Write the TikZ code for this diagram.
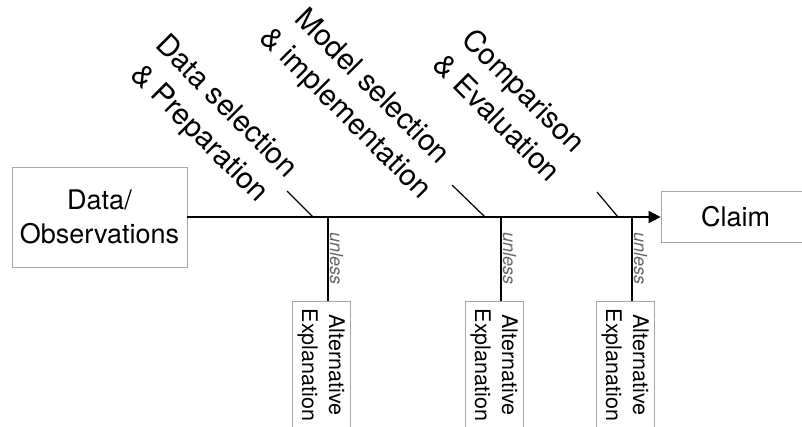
\documentclass[tikz,border=0pt]{standalone}
\usepackage{fontspec}
\setmainfont{TeX Gyre Heros}
\usetikzlibrary{arrows.meta,calc}
\begin{document}
\begin{tikzpicture}[x=1pt,y=-1pt,
  box/.style={draw=black!35, line width=0.8pt, align=center, inner sep=0pt},
  diag/.style={rotate=-45, align=center, font=\fontsize{29.5}{38}\selectfont, inner sep=0pt},
  aebox/.style={box, rotate=-90, minimum width=128pt, minimum height=58pt, font=\fontsize{21.5}{27}\selectfont},
  unl/.style={rotate=-90, font=\fontsize{18}{20}\selectfont\itshape, text=black!60, anchor=south, inner sep=1pt},
  spine/.style={line width=2pt},
  bone/.style={line width=1.8pt},
  tickline/.style={line width=1.2pt}]
\useasboundingbox (0,0) rectangle (802,426);
\clip (0,0) rectangle (802,426);

\node[box, minimum width=175pt, minimum height=100pt, font=\fontsize{27}{34}\selectfont] (data) at (99.5,217) {Data/\\Observations};
\node[box, minimum width=149pt, minimum height=51pt, font=\fontsize{27}{34}\selectfont] (claim) at (735.5,217) {Claim};

\draw[spine,-{Triangle[length=12pt,width=12pt]}] (data.east) -- (claim.west);

\coordinate (j1) at (328,217);
\coordinate (j2) at (501,217);
\coordinate (j3) at (632,217);
\coordinate (t1) at (313,217);
\coordinate (t2) at (485,217);
\coordinate (t3) at (618,217);

\node[aebox] (ae1) at (321,365) {Alternative\\Explanation};
\node[aebox] (ae2) at (494,365) {Alternative\\Explanation};
\node[aebox] (ae3) at (625,365) {Alternative\\Explanation};

\draw[bone] (j1) -- node[unl] {unless} (j1 |- ae1.west);
\draw[bone] (j2) -- node[unl] {unless} (j2 |- ae2.west);
\draw[bone] (j3) -- node[unl] {unless} (j3 |- ae3.west);

\node[diag] (l1) at (212,121) {Data selection\\\& Preparation};
\node[diag] (l2) at (358,101) {Model selection\\\& implementation};
\node[diag] (l3) at (511,104) {Comparison\\\& Evaluation};

\draw[tickline] (t1) -- ++(-26,-26);
\draw[tickline] (t2) -- ++(-33,-32);
\draw[tickline] (t3) -- ++(-21,-25);
\end{tikzpicture}
\end{document}
